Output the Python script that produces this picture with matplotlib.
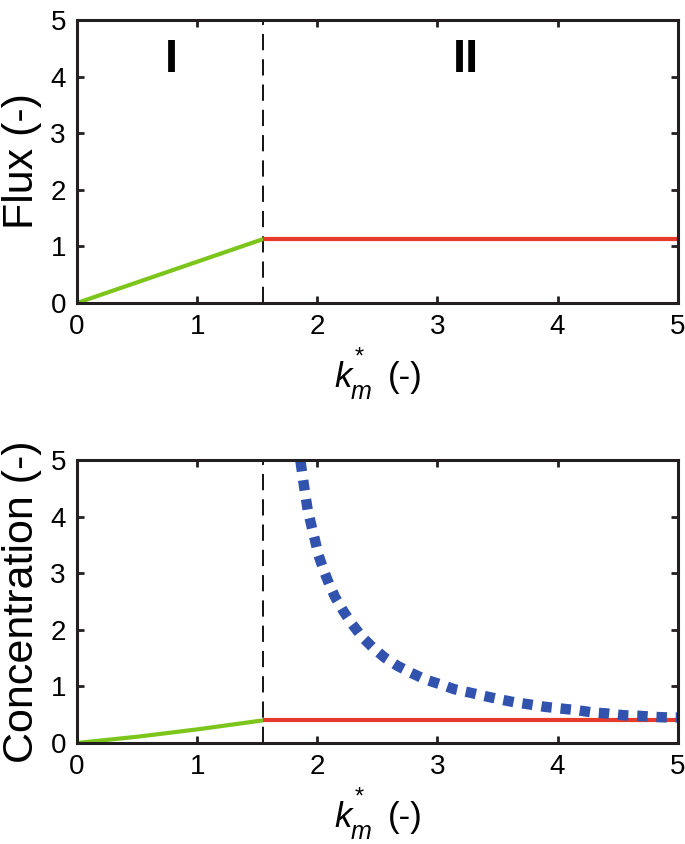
import matplotlib
matplotlib.use("Agg")
import matplotlib.pyplot as plt

plt.rcParams['font.family'] = ['Liberation Sans', 'DejaVu Sans']

# data
k_switch = 1.55
ticks = [0, 1, 2, 3, 4, 5]

flux_green_x = [0, 1.55]
flux_green_y = [0, 1.13]
flux_red_x = [1.55, 5]
flux_red_y = [1.13, 1.13]

conc_green_x = [0, 0.5, 1.0, 1.55]
conc_green_y = [0, 0.11, 0.24, 0.40]
conc_red_x = [1.55, 5]
conc_red_y = [0.40, 0.40]

conc_blue_x = [1.86, 1.88, 1.90, 1.92, 1.95, 1.98, 2.01, 2.05, 2.10, 2.15, 2.22,
               2.29, 2.37, 2.46, 2.56, 2.67, 2.78, 2.90, 3.02, 3.14, 3.27, 3.39,
               3.52, 3.64, 3.77, 3.89, 4.02, 4.16, 4.29, 4.42, 4.55, 4.68, 4.81, 4.93, 5.0]
conc_blue_y = [4.98, 4.68, 4.39, 4.12, 3.85, 3.59, 3.32, 3.07, 2.80, 2.57, 2.32,
               2.10, 1.88, 1.69, 1.51, 1.36, 1.24, 1.12, 1.04, 0.95, 0.89, 0.83,
               0.77, 0.72, 0.68, 0.64, 0.61, 0.58, 0.54, 0.52, 0.49, 0.48, 0.46, 0.45, 0.45]

green = '#7cc61c'
red = '#e63a2a'
blue = '#3153ad'
frame = '#231f20'


def km_label(ax):
    # k*_m (-) built from pieces so the subscript sits low like the original
    t = ax.transAxes
    ax.text(0.429, -0.297, 'k', fontsize=25, style='italic', transform=t,
            ha='left', va='baseline')
    ax.text(0.462, -0.215, '*', fontsize=17, transform=t, ha='left', va='baseline')
    ax.text(0.456, -0.34, 'm', fontsize=18, style='italic', transform=t,
            ha='left', va='baseline')
    ax.text(0.517, -0.297, '(-)', fontsize=25, transform=t, ha='left', va='baseline')


fig = plt.figure(figsize=(6.85, 8.44), dpi=100)
ax1 = fig.add_axes([0.1124, 0.641, 0.877, 0.3353])
ax2 = fig.add_axes([0.1124, 0.1197, 0.877, 0.3353])

for ax in (ax1, ax2):
    ax.set_xlim(0, 5)
    ax.set_ylim(0, 5)
    ax.set_xticks(ticks)
    ax.set_yticks(ticks)
    ax.tick_params(direction='in', top=True, right=True, length=5, width=2,
                   color=frame, labelsize=20, pad=8)
    for s in ax.spines.values():
        s.set_linewidth(2.2)
        s.set_color(frame)
    ax.axvline(k_switch, color='black', lw=1.3, ls=(0, (9, 5)), zorder=1)
    km_label(ax)

ax1.plot(flux_green_x, flux_green_y, color=green, lw=3, solid_capstyle='butt')
ax1.plot(flux_red_x, flux_red_y, color=red, lw=3, solid_capstyle='butt')
ax1.set_ylabel('Flux (-)', fontsize=31, labelpad=6)
ax1.text(0.79, 4.3, 'I', fontsize=34, fontweight='bold', ha='center', va='center')
ax1.text(3.24, 4.3, 'II', fontsize=34, fontweight='bold', ha='center', va='center')

ax2.plot(conc_green_x, conc_green_y, color=green, lw=3, solid_capstyle='butt')
ax2.plot(conc_red_x, conc_red_y, color=red, lw=3, solid_capstyle='butt')
ax2.plot(conc_blue_x, conc_blue_y, color=blue, lw=7.5, ls=(0, (1, 0.85)),
         dash_capstyle='butt')
ax2.set_ylabel('Concentration (-)', fontsize=31, labelpad=6)

fig.savefig('out.png', dpi=100)
